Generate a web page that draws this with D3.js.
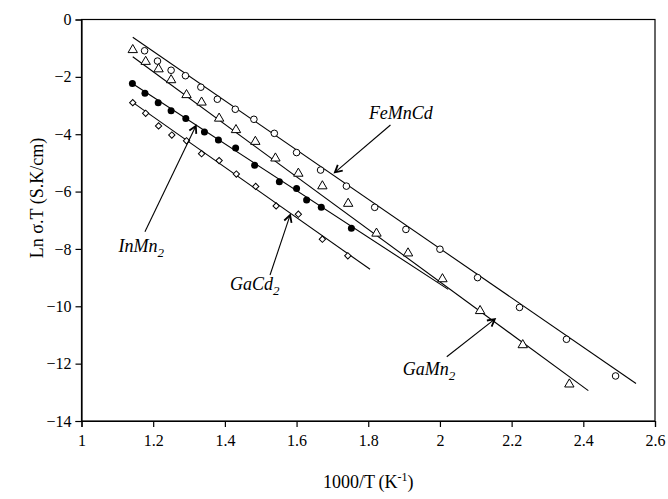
<!DOCTYPE html>
<html>
<head>
<meta charset="utf-8">
<script src="https://cdn.jsdelivr.net/npm/d3@7"></script>
<style>
  html, body { margin: 0; padding: 0; background: #fff; }
  svg { display: block; font-family: "Liberation Serif", "Times New Roman", serif; }
</style>
</head>
<body>
<svg id="chart" width="668" height="499"></svg>
<script>
// Arrhenius-type plot: Ln(sigma*T) versus 1000/T for four compounds

// FeMnCd (open circles)
const feMnCdX = [1.176, 1.212, 1.25, 1.29, 1.333, 1.379, 1.429, 1.481, 1.538, 1.6, 1.667, 1.739, 1.818, 1.905, 2.0, 2.105, 2.222, 2.353, 2.49];
const feMnCdY = [-1.09, -1.45, -1.77, -1.96, -2.36, -2.78, -3.13, -3.48, -3.97, -4.64, -5.25, -5.81, -6.55, -7.32, -8.01, -9.0, -10.04, -11.15, -12.43];

// GaMn2 (open triangles)
const gaMn2X = [1.143, 1.179, 1.215, 1.25, 1.293, 1.335, 1.384, 1.431, 1.485, 1.541, 1.605, 1.672, 1.744, 1.823, 1.911, 2.007, 2.112, 2.231, 2.361];
const gaMn2Y = [-1.06, -1.47, -1.73, -2.11, -2.63, -2.89, -3.45, -3.85, -4.26, -4.84, -5.37, -5.81, -6.42, -7.46, -8.15, -9.05, -10.16, -11.35, -12.72];

// InMn2 (filled circles)
const inMn2X = [1.142, 1.177, 1.214, 1.25, 1.291, 1.343, 1.382, 1.43, 1.483, 1.552, 1.6, 1.628, 1.669, 1.753];
const inMn2Y = [-2.23, -2.57, -2.9, -3.18, -3.45, -3.92, -4.2, -4.48, -5.08, -5.66, -5.89, -6.29, -6.55, -7.28];

// GaCd2 (open diamonds)
const gaCd2X = [1.143, 1.179, 1.215, 1.252, 1.293, 1.335, 1.384, 1.432, 1.486, 1.543, 1.605, 1.672, 1.743];
const gaCd2Y = [-2.9, -3.27, -3.71, -4.03, -4.23, -4.68, -4.92, -5.39, -5.82, -6.5, -6.79, -7.66, -8.24];

// Linear fit segments: [x start, y start, x end, y end]
const fitFeMnCd = [1.143, -0.62, 2.547, -12.69];
const fitGaMn2  = [1.143, -1.30, 2.414, -12.94];
const fitInMn2  = [1.144, -2.25, 2.023, -9.41];
const fitGaCd2  = [1.144, -2.90, 1.805, -8.71];

// Axis ticks
const xTicks = [1, 1.2, 1.4, 1.6, 1.8, 2, 2.2, 2.4, 2.6];
const yTicks = [0, -2, -4, -6, -8, -10, -12, -14];

// Annotation labels: name, subscript, text anchor (x, y), arrow from (x, y) to (x, y)
const labelNames = ["FeMnCd", "InMn", "GaCd", "GaMn"];
const labelSubs  = ["", "2", "2", "2"];
const labelPos   = [[1.891, -3.48], [1.103, -8.10], [1.414, -9.43], [1.896, -12.40]];
const arrowFrom  = [[1.862, -3.68], [1.177, -7.40], [1.526, -8.91], [2.019, -11.76]];
const arrowTo    = [[1.707, -5.33], [1.319, -3.71], [1.582, -6.82], [2.153, -10.45]];

const svg = d3.select("#chart");
const margin = { left: 81.5, right: 13, top: 19.5, bottom: 78 };
const W = 668, H = 499;

const x = d3.scaleLinear().domain([1, 2.6]).range([margin.left, W - margin.right]);
const y = d3.scaleLinear().domain([-14, 0]).range([H - margin.bottom, margin.top]);

// frame
svg.append("rect")
  .attr("x", x(1)).attr("y", y(0))
  .attr("width", x(2.6) - x(1)).attr("height", y(-14) - y(0))
  .attr("fill", "none").attr("stroke", "#000").attr("stroke-width", 1.2);

// axes
const xAxis = svg.append("g")
  .attr("transform", `translate(0,${y(-14)})`)
  .call(d3.axisBottom(x).tickValues(xTicks).tickSize(6).tickPadding(8).tickFormat(d3.format("")));
const yAxis = svg.append("g")
  .attr("transform", `translate(${x(1)},0)`)
  .call(d3.axisLeft(y).tickValues(yTicks).tickSize(6).tickPadding(4).tickFormat(d3.format("")));

[xAxis, yAxis].forEach(g => {
  g.select(".domain").attr("stroke", "#000").attr("stroke-width", 1.2);
  g.selectAll(".tick line").attr("stroke", "#000").attr("stroke-width", 1.2);
  g.selectAll(".tick text")
    .attr("fill", "#000")
    .style("font-family", "'Liberation Serif', 'Times New Roman', serif")
    .style("font-size", "16px");
});

// axis titles
const xTitle = svg.append("text")
  .attr("x", (x(1) + x(2.6)) / 2)
  .attr("y", 488)
  .attr("text-anchor", "middle")
  .style("font-size", "18px");
xTitle.append("tspan").text("1000/T\u2009(K");
xTitle.append("tspan").attr("dy", -7).style("font-size", "12px").text("-1");
xTitle.append("tspan").attr("dy", 7).text(")");

svg.append("text")
  .attr("transform", `translate(43,198) rotate(-90)`)
  .attr("text-anchor", "middle")
  .style("font-size", "18px")
  .text("Ln \u03c3.T (S.K/cm)");

// fit lines
const fits = [fitFeMnCd, fitGaMn2, fitInMn2, fitGaCd2];
svg.append("g").selectAll("line").data(fits).join("line")
  .attr("x1", d => x(d[0])).attr("y1", d => y(d[1]))
  .attr("x2", d => x(d[2])).attr("y2", d => y(d[3]))
  .attr("stroke", "#000").attr("stroke-width", 1.1);

const zip = (xs, ys) => xs.map((v, i) => [v, ys[i]]);

// markers
svg.append("g").selectAll("circle").data(zip(feMnCdX, feMnCdY)).join("circle")
  .attr("cx", d => x(d[0])).attr("cy", d => y(d[1])).attr("r", 3.3)
  .attr("fill", "#fff").attr("stroke", "#000").attr("stroke-width", 1);

const triSym = d3.symbol().type(d3.symbolTriangle).size(38);
svg.append("g").selectAll("path").data(zip(gaMn2X, gaMn2Y)).join("path")
  .attr("d", triSym)
  .attr("transform", d => `translate(${x(d[0])},${y(d[1])})`)
  .attr("fill", "#fff").attr("stroke", "#000").attr("stroke-width", 1);

svg.append("g").selectAll("circle").data(zip(inMn2X, inMn2Y)).join("circle")
  .attr("cx", d => x(d[0])).attr("cy", d => y(d[1])).attr("r", 3.5)
  .attr("fill", "#000");

const diaSym = d3.symbol().type(d3.symbolSquare).size(20);
svg.append("g").selectAll("path").data(zip(gaCd2X, gaCd2Y)).join("path")
  .attr("d", diaSym)
  .attr("transform", d => `translate(${x(d[0])},${y(d[1])}) rotate(45)`)
  .attr("fill", "#fff").attr("stroke", "#000").attr("stroke-width", 1);

// annotations
const ann = svg.append("g");
labelNames.forEach((name, i) => {
  const t = ann.append("text")
    .attr("x", x(labelPos[i][0])).attr("y", y(labelPos[i][1]))
    .attr("text-anchor", i === 0 ? "middle" : "start")
    .style("font-style", "italic").style("font-size", "18px");
  t.append("tspan").text(name);
  if (labelSubs[i]) t.append("tspan").attr("dy", 5).style("font-size", "13px").text(labelSubs[i]);

  const x0 = x(arrowFrom[i][0]), y0 = y(arrowFrom[i][1]);
  const x1 = x(arrowTo[i][0]), y1 = y(arrowTo[i][1]);
  ann.append("line").attr("x1", x0).attr("y1", y0).attr("x2", x1).attr("y2", y1)
    .attr("stroke", "#000").attr("stroke-width", 1.1);
  const a = Math.atan2(y1 - y0, x1 - x0), len = 8, spread = 0.5;
  const head = [
    [x1 - len * Math.cos(a - spread), y1 - len * Math.sin(a - spread)],
    [x1, y1],
    [x1 - len * Math.cos(a + spread), y1 - len * Math.sin(a + spread)]
  ];
  ann.append("path").attr("d", d3.line()(head))
    .attr("fill", "none").attr("stroke", "#000").attr("stroke-width", 1.8);
});
</script>
</body>
</html>
